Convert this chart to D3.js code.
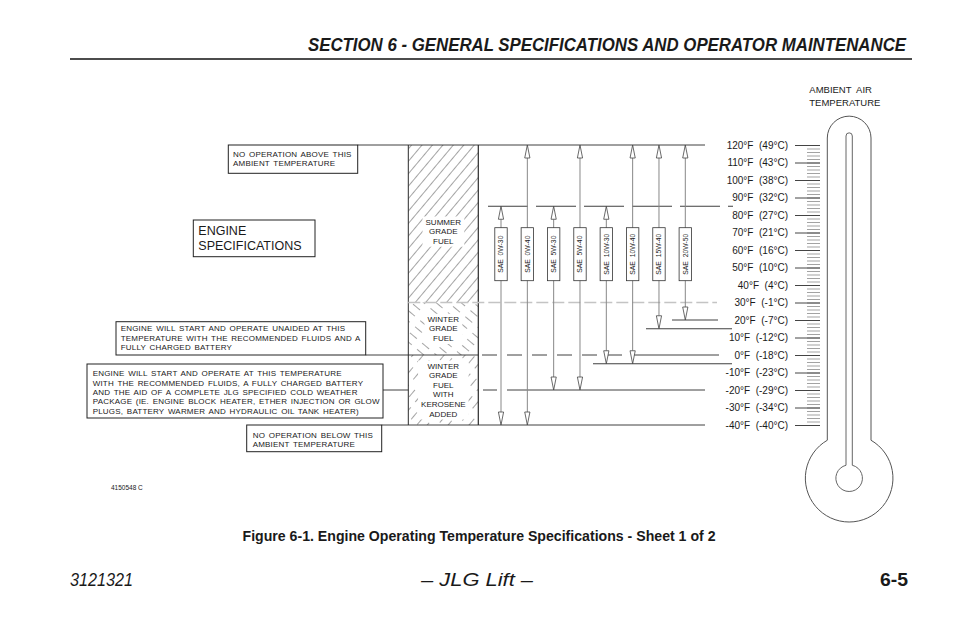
<!DOCTYPE html>
<html>
<head>
<meta charset="utf-8">
<script src="https://cdn.jsdelivr.net/npm/d3@7"></script>
<style>
  body { margin: 0; background: #fff; }
  text { font-family: "Liberation Sans", Arial, Helvetica, sans-serif; fill: #1a1a1a; }
  .note { font-size: 8px; letter-spacing: 0.2px; word-spacing: 1.2px; }
  .narrow { font-family: "Liberation Sans Narrow", "Arial Narrow", "Liberation Sans", sans-serif; }
</style>
</head>
<body>
<svg id="chart" width="954" height="618"></svg>
<script>
// ambient temperature scale (°F with °C equivalent)
const tempF = [120, 110, 100, 90, 80, 70, 60, 50, 40, 30, 20, 10, 0, -10, -20, -30, -40];
const tempC = [49, 43, 38, 32, 27, 21, 16, 10, 4, -1, -7, -12, -18, -23, -29, -34, -40];

// engine oil grades and the range each one covers, °F
const oilGrades = ['SAE  0W-30', 'SAE  0W-40', 'SAE  5W-30', 'SAE  5W-40',
                   'SAE  10W-30', 'SAE  10W-40', 'SAE  15W-40', 'SAE  20W-50'];
const oilMaxF = [85, 120, 85, 120, 85, 120, 120, 120];
const oilMinF = [-40, -40, -20, -20, -5, -5, 15, 20];

// fuel bands
const fuelLabels = [['SUMMER', 'GRADE', 'FUEL'],
                    ['WINTER', 'GRADE', 'FUEL'],
                    ['WINTER', 'GRADE', 'FUEL', 'WITH', 'KEROSENE', 'ADDED']];
const fuelTopF = [120, 30, 0];
const fuelBottomF = [30, 0, -40];
const fuelHatch = ['hatchSummer', 'hatchWinter', 'hatchKero'];

// callout notes
const noteText = [
    ['NO OPERATION ABOVE THIS', 'AMBIENT TEMPERATURE'],
    ['ENGINE WILL START AND OPERATE UNAIDED AT THIS', 'TEMPERATURE WITH THE RECOMMENDED FLUIDS AND A', 'FULLY CHARGED BATTERY'],
    ['ENGINE WILL START AND OPERATE AT THIS TEMPERATURE', 'WITH THE RECOMMENDED FLUIDS, A FULLY CHARGED BATTERY',
     'AND THE AID OF A COMPLETE JLG SPECIFIED COLD WEATHER', 'PACKAGE (IE. ENGINE BLOCK HEATER, ETHER INJECTION OR GLOW',
     'PLUGS, BATTERY WARMER AND HYDRAULIC OIL TANK HEATER)'],
    ['NO OPERATION BELOW THIS', 'AMBIENT TEMPERATURE']
];

// ---- layout ----
const svg = d3.select('#chart');
const y = d3.scaleLinear().domain([-40, 120]).range([425, 145]);
const x = d3.scalePoint().domain(oilGrades).range([501, 685.3]);
const ink = '#2a2a2a';
const colL = 408.3, colR = 478.3;

svg.append('rect').attr('width', 954).attr('height', 618).attr('fill', '#fff');

// hatch patterns
const defs = svg.append('defs');
function hatch(id, angle, dash) {
    const p = defs.append('pattern')
        .attr('id', id)
        .attr('patternUnits', 'userSpaceOnUse')
        .attr('width', 8).attr('height', 16)
        .attr('patternTransform', `rotate(${angle})`);
    p.append('line')
        .attr('x1', 0.5).attr('x2', 0.5)
        .attr('y1', 0).attr('y2', dash ? 9 : 16)
        .attr('stroke', '#666').attr('stroke-width', 0.6);
}
hatch('hatchSummer', 40, false);
hatch('hatchWinter', -50, true);
hatch('hatchKero', 40, true);

// header
svg.append('text')
    .attr('class', 'narrow')
    .attr('x', 906).attr('y', 51)
    .attr('text-anchor', 'end')
    .attr('textLength', 598).attr('lengthAdjust', 'spacingAndGlyphs')
    .style('font-size', '18px').style('font-weight', 'bold').style('font-style', 'italic')
    .text('SECTION 6 - GENERAL SPECIFICATIONS AND OPERATOR MAINTENANCE');
svg.append('line')
    .attr('x1', 70).attr('x2', 912).attr('y1', 59).attr('y2', 59)
    .attr('stroke', '#111').attr('stroke-width', 1.4);

// fuel column
const fuel = svg.append('g').attr('class', 'fuel');
fuelLabels.forEach((lines, i) => {
    const top = y(fuelTopF[i]), bottom = y(fuelBottomF[i]);
    fuel.append('rect')
        .attr('x', colL).attr('y', top)
        .attr('width', colR - colL).attr('height', bottom - top)
        .attr('fill', `url(#${fuelHatch[i]})`);
});
const fuelLabelTop = [221.7, 319, 365.7];
fuelLabels.forEach((lines, i) => {
    const g = fuel.append('g');
    const bg = g.append('rect').attr('fill', '#fff');
    g.selectAll('text').data(lines).join('text')
        .attr('x', (colL + colR) / 2)
        .attr('y', (d, j) => fuelLabelTop[i] + j * 9.6)
        .attr('dy', '0.35em')
        .attr('text-anchor', 'middle')
        .style('font-size', '8px')
        .text(d => d);
    const b = g.node().getBBox();
    bg.attr('x', b.x - 3).attr('y', b.y - 1).attr('width', b.width + 6).attr('height', b.height + 2);
});
fuel.append('line')
    .attr('x1', colL).attr('x2', colL).attr('y1', y(120)).attr('y2', y(-40))
    .attr('stroke', ink).attr('stroke-width', 1);
fuel.append('line')
    .attr('x1', colR).attr('x2', colR).attr('y1', y(120)).attr('y2', y(-40))
    .attr('stroke', ink).attr('stroke-width', 1.2);

// horizontal limit lines
const limitLines = [
    { f: 120, x1: 357.7, x2: 705 },
    { f: 85, x1: 488, x2: 733, dash: '40,8' },
    { f: 30, x1: colL, x2: 717, dash: '12,4', color: '#c4c4c4', w: 1.4 },
    { f: 20, x1: 672, x2: 718 },
    { f: 15, x1: 646, x2: 732 },
    { f: 0, x1: 365.7, x2: colR },
    { f: 0, x1: 482, x2: 638, dash: '15,10' },
    { f: 0, x1: 638, x2: 719 },
    { f: -5, x1: 593, x2: 732 },
    { f: -20, x1: 383, x2: colL },
    { f: -20, x1: 483, x2: 507, dash: '14,10' },
    { f: -20, x1: 507, x2: 705 },
    { f: -40, x1: 381.7, x2: 705 }
];
svg.append('g').selectAll('line').data(limitLines).join('line')
    .attr('x1', d => d.x1).attr('x2', d => d.x2)
    .attr('y1', d => y(d.f)).attr('y2', d => y(d.f))
    .attr('stroke', d => d.color || ink)
    .attr('stroke-width', d => d.w || 0.9)
    .attr('stroke-dasharray', d => d.dash || null);

// oil grade arrows
const head = 13, halfW = 2.6;
const boxTop = 227.7, boxH = 53, boxW = 12.4;
const oils = svg.append('g').selectAll('g').data(oilGrades).join('g')
    .attr('transform', d => `translate(${x(d)},0)`);
oils.append('line')
    .attr('y1', (d, i) => y(oilMaxF[i]) + head)
    .attr('y2', (d, i) => y(oilMinF[i]) - head)
    .attr('stroke', '#888').attr('stroke-width', 1);
oils.append('path')
    .attr('d', (d, i) => {
        const t = y(oilMaxF[i]);
        return `M0,${t}L${-halfW},${t + head}L${halfW},${t + head}Z`;
    })
    .attr('fill', '#fff').attr('stroke', '#444').attr('stroke-width', 0.8);
oils.append('path')
    .attr('d', (d, i) => {
        const b = y(oilMinF[i]);
        return `M0,${b}L${-halfW},${b - head}L${halfW},${b - head}Z`;
    })
    .attr('fill', '#fff').attr('stroke', '#444').attr('stroke-width', 0.8);
oils.append('rect')
    .attr('x', -boxW / 2).attr('y', boxTop)
    .attr('width', boxW).attr('height', boxH)
    .attr('fill', '#fff').attr('stroke', '#333').attr('stroke-width', 0.8);
oils.append('text')
    .attr('transform', `translate(0,${boxTop + boxH / 2}) rotate(-90)`)
    .attr('text-anchor', 'middle').attr('dy', '0.35em')
    .style('font-size', '6.8px').style('white-space', 'pre')
    .text(d => d);

// note boxes
const noteBoxes = [
    { x: 228.3, y: 145, w: 129.4, h: 28.3, tx: 233, ty: 154 },
    { x: 116, y: 321.7, w: 249.7, h: 33.3, tx: 120.7, ty: 328.6 },
    { x: 87, y: 364, w: 296, h: 54, tx: 92.7, ty: 373.3 },
    { x: 246.7, y: 425, w: 135, h: 26.7, tx: 252.7, ty: 435 }
];
const notes = svg.append('g').selectAll('g').data(noteBoxes).join('g');
notes.append('rect')
    .attr('x', d => d.x).attr('y', d => d.y)
    .attr('width', d => d.w).attr('height', d => d.h)
    .attr('fill', '#fff').attr('stroke', '#222').attr('stroke-width', 1);
notes.each(function (d, i) {
    d3.select(this).selectAll('text').data(noteText[i]).join('text')
        .attr('class', 'note')
        .attr('x', d.tx)
        .attr('y', (t, j) => d.ty + j * 9.4)
        .attr('dy', '0.35em')
        .text(t => t);
});

// engine specifications title box
svg.append('rect')
    .attr('x', 193.3).attr('y', 220).attr('width', 121.7).attr('height', 36.7)
    .attr('fill', '#fff').attr('stroke', '#222').attr('stroke-width', 1);
svg.append('g').selectAll('text').data(['ENGINE', 'SPECIFICATIONS']).join('text')
    .attr('x', 198.3)
    .attr('y', (d, i) => 235 + i * 15)
    .style('font-size', '12.5px')
    .text(d => d);

// thermometer scale
const minor = svg.append('g')
    .attr('transform', 'translate(820,0)')
    .call(d3.axisLeft(y).tickValues(d3.range(-40, 121, 2)).tickSize(13).tickFormat(''));
minor.select('.domain').remove();
minor.selectAll('.tick line').attr('stroke', '#999').attr('stroke-width', 0.9);

const major = svg.append('g')
    .attr('transform', 'translate(820,0)')
    .call(d3.axisLeft(y).tickValues(tempF).tickSize(25).tickPadding(7)
        .tickFormat((d, i) => `${d}°F  (${tempC[i]}°C)`));
major.select('.domain').remove();
major.selectAll('.tick line').attr('stroke', '#444').attr('stroke-width', 1);
major.selectAll('.tick text')
    .attr('fill', '#1a1a1a')
    .style('font-family', '"Liberation Sans", Arial, sans-serif')
    .style('font-size', '10px')
    .style('white-space', 'pre');

// thermometer outline
const cx = 849.15, bulbY = 478.2, bulbR = 43.8, tubeL = 827.3, tubeR = 871, tubeTop = 138;
const neckY = bulbY - Math.sqrt(bulbR * bulbR - (cx - tubeL) ** 2);
svg.append('path')
    .attr('d', `M${tubeL},${neckY}V${tubeTop}A${(tubeR - tubeL) / 2},${(tubeR - tubeL) / 2} 0 0 1 ${tubeR},${tubeTop}` +
        `V${neckY}A${bulbR},${bulbR} 0 1 1 ${tubeL},${neckY}Z`)
    .attr('fill', 'none').attr('stroke', '#555').attr('stroke-width', 1);
const innerL = 846, innerR = 852.3, innerR0 = 13.3;
const innerNeck = bulbY - Math.sqrt(innerR0 * innerR0 - (cx - innerL) ** 2);
svg.append('path')
    .attr('d', `M${innerL},${innerNeck}V136A3.15,3.15 0 0 1 ${innerR},136V${innerNeck}` +
        `A${innerR0},${innerR0} 0 1 1 ${innerL},${innerNeck}Z`)
    .attr('fill', 'none').attr('stroke', '#666').attr('stroke-width', 1);

svg.append('g').selectAll('text').data(['AMBIENT  AIR', 'TEMPERATURE']).join('text')
    .attr('x', 809.3)
    .attr('y', (d, i) => 90 + i * 12.3)
    .attr('dy', '0.35em')
    .style('font-size', '9.5px').style('white-space', 'pre')
    .text(d => d);

// drawing number
svg.append('text')
    .attr('x', 111).attr('y', 490)
    .style('font-size', '6.5px')
    .text('4150548 C');

// caption and footer
svg.append('text')
    .attr('class', 'narrow')
    .attr('x', 479).attr('y', 541)
    .attr('text-anchor', 'middle')
    .attr('textLength', 473).attr('lengthAdjust', 'spacingAndGlyphs')
    .style('font-size', '15.5px').style('font-weight', 'bold')
    .text('Figure 6-1. Engine Operating Temperature Specifications - Sheet 1 of 2');
svg.append('text')
    .attr('class', 'narrow')
    .attr('x', 70).attr('y', 586)
    .attr('textLength', 63).attr('lengthAdjust', 'spacingAndGlyphs')
    .style('font-size', '18px').style('font-style', 'italic')
    .text('3121321');
svg.append('text')
    .attr('class', 'narrow')
    .attr('x', 477).attr('y', 586)
    .attr('text-anchor', 'middle')
    .attr('textLength', 112).attr('lengthAdjust', 'spacingAndGlyphs')
    .style('font-size', '18px').style('font-style', 'italic')
    .text('– JLG Lift –');
svg.append('text')
    .attr('class', 'narrow')
    .attr('x', 908).attr('y', 586)
    .attr('text-anchor', 'end')
    .attr('textLength', 28).attr('lengthAdjust', 'spacingAndGlyphs')
    .style('font-size', '18px').style('font-weight', 'bold')
    .text('6-5');
</script>
</body>
</html>
